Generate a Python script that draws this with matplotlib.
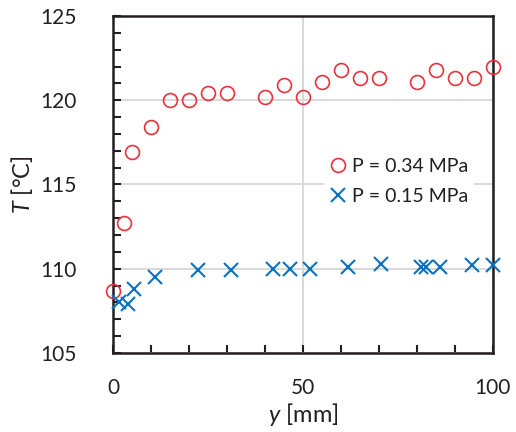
import matplotlib as mpl
import matplotlib.pyplot as plt
from matplotlib.ticker import MultipleLocator

# P = 0.34 MPa
y_hi = [0, 3, 5, 10, 15, 20, 25, 30, 40, 45, 50, 55, 60, 65, 70, 80, 85, 90, 95, 100]
t_hi = [108.7, 112.7, 116.9, 118.4, 120.0, 120.0, 120.4, 120.4, 120.2, 120.9,
        120.2, 121.1, 121.8, 121.3, 121.3, 121.1, 121.8, 121.3, 121.3, 122.0]
# P = 0.15 MPa
y_lo = [1.5, 4, 5.5, 11, 22.5, 31, 42, 46.5, 52, 62, 70.5, 81, 82.5, 86, 94.5, 100]
t_lo = [108.0, 107.9, 108.8, 109.5, 109.9, 109.9, 110.0, 110.0, 110.0, 110.1,
        110.3, 110.1, 110.1, 110.1, 110.2, 110.2]

mpl.rcParams.update({'font.family': 'Lato', 'font.size': 15,
                     'mathtext.fontset': 'custom', 'mathtext.rm': 'Lato',
                     'mathtext.it': 'Lato:italic'})
dark = '#231f20'

dpi = 100
fig = plt.figure(dpi=dpi, figsize=(516 / dpi, 432 / dpi))
ax = fig.add_axes([0.219, 0.183, 0.736, 0.780])

ax.plot(y_hi, t_hi, linestyle='none', marker='o', markersize=10, markerfacecolor='none',
        markeredgecolor='#e8313b', markeredgewidth=1.2, label='P = 0.34 MPa', zorder=3, clip_on=False)
ax.plot(y_lo, t_lo, linestyle='none', marker='x', markersize=9.5,
        markeredgecolor='#0b72c0', markeredgewidth=1.5, label='P = 0.15 MPa', zorder=3, clip_on=False)

ax.set_xlim(0, 100)
ax.set_ylim(105, 125)
ax.xaxis.set_major_locator(MultipleLocator(50))
ax.xaxis.set_minor_locator(MultipleLocator(10))
ax.yaxis.set_major_locator(MultipleLocator(5))
ax.yaxis.set_minor_locator(MultipleLocator(1))
ax.tick_params(which='both', direction='in', length=6, width=1.5, color=dark,
               labelcolor=dark, top=False, right=False)
ax.tick_params(axis='x', which='major', pad=18)
ax.tick_params(axis='y', which='major', pad=26)
ax.grid(True, which='major', color='#d9d9d9', linewidth=1.4, zorder=0)
ax.set_axisbelow(True)
for s in ax.spines.values():
    s.set_color(dark)
    s.set_linewidth(1.8)

ax.set_xlabel(r'$\mathit{y}$ [mm]', fontsize=17, color=dark, labelpad=2)
ax.set_ylabel(r'$\mathit{T}$ [°C]', fontsize=17, color=dark, labelpad=4)

leg = ax.legend(loc='upper left', bbox_to_anchor=(0.53, 0.625), frameon=True, fontsize=14,
                handlelength=0.8, handletextpad=0.35, borderpad=0.3, labelspacing=0.65,
                framealpha=1, edgecolor='none', fancybox=False)
for t in leg.get_texts():
    t.set_color(dark)

fig.savefig('out.png')
